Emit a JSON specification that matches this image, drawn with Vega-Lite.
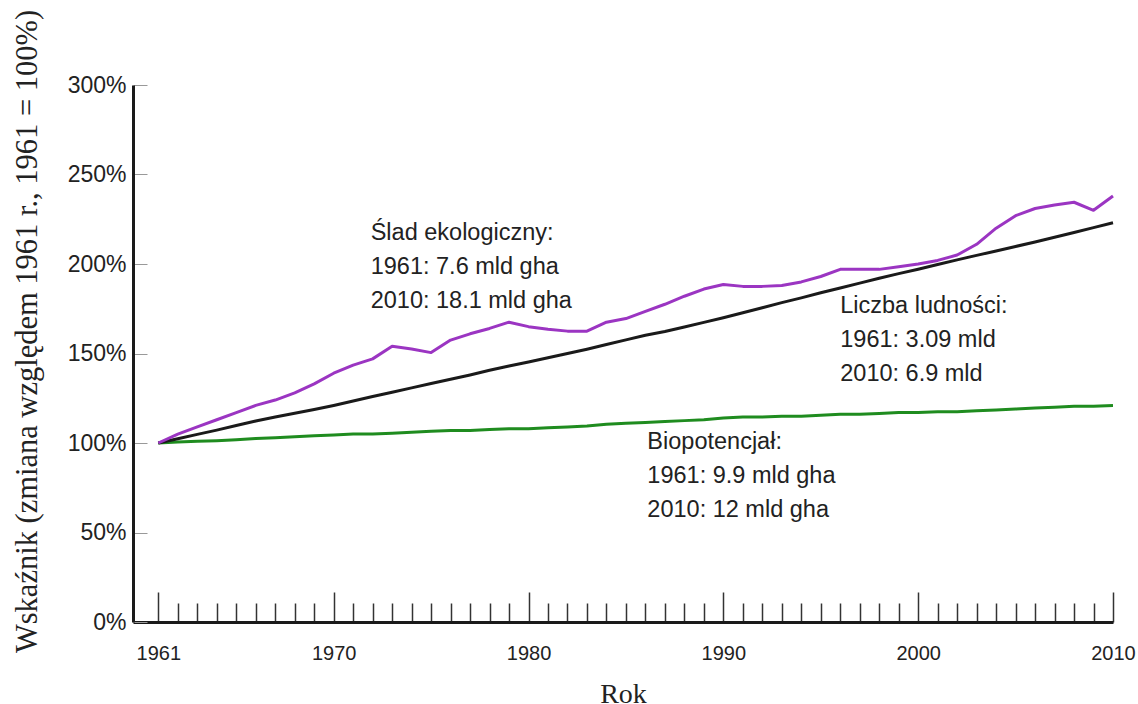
{
  "$schema": "https://vega.github.io/schema/vega-lite/v6.json",
  "width": 980,
  "height": 537,
  "autosize": "none",
  "padding": {"left": 133, "top": 85, "right": 25, "bottom": 82},
  "background": "white",
  "config": {
    "view": {"stroke": null},
    "axis": {"grid": false}
  },
  "datasets": {
    "series": [
      {"rok": 1961, "seria": "Biopotencjał", "wartosc": 100},
      {"rok": 1962, "seria": "Biopotencjał", "wartosc": 100.5},
      {"rok": 1963, "seria": "Biopotencjał", "wartosc": 101},
      {"rok": 1964, "seria": "Biopotencjał", "wartosc": 101.3},
      {"rok": 1965, "seria": "Biopotencjał", "wartosc": 101.8},
      {"rok": 1966, "seria": "Biopotencjał", "wartosc": 102.5},
      {"rok": 1967, "seria": "Biopotencjał", "wartosc": 103},
      {"rok": 1968, "seria": "Biopotencjał", "wartosc": 103.5},
      {"rok": 1969, "seria": "Biopotencjał", "wartosc": 104},
      {"rok": 1970, "seria": "Biopotencjał", "wartosc": 104.5},
      {"rok": 1971, "seria": "Biopotencjał", "wartosc": 105},
      {"rok": 1972, "seria": "Biopotencjał", "wartosc": 105},
      {"rok": 1973, "seria": "Biopotencjał", "wartosc": 105.5},
      {"rok": 1974, "seria": "Biopotencjał", "wartosc": 106},
      {"rok": 1975, "seria": "Biopotencjał", "wartosc": 106.5},
      {"rok": 1976, "seria": "Biopotencjał", "wartosc": 107},
      {"rok": 1977, "seria": "Biopotencjał", "wartosc": 107},
      {"rok": 1978, "seria": "Biopotencjał", "wartosc": 107.5},
      {"rok": 1979, "seria": "Biopotencjał", "wartosc": 108},
      {"rok": 1980, "seria": "Biopotencjał", "wartosc": 108},
      {"rok": 1981, "seria": "Biopotencjał", "wartosc": 108.5},
      {"rok": 1982, "seria": "Biopotencjał", "wartosc": 109},
      {"rok": 1983, "seria": "Biopotencjał", "wartosc": 109.5},
      {"rok": 1984, "seria": "Biopotencjał", "wartosc": 110.5},
      {"rok": 1985, "seria": "Biopotencjał", "wartosc": 111},
      {"rok": 1986, "seria": "Biopotencjał", "wartosc": 111.5},
      {"rok": 1987, "seria": "Biopotencjał", "wartosc": 112},
      {"rok": 1988, "seria": "Biopotencjał", "wartosc": 112.5},
      {"rok": 1989, "seria": "Biopotencjał", "wartosc": 113},
      {"rok": 1990, "seria": "Biopotencjał", "wartosc": 114},
      {"rok": 1991, "seria": "Biopotencjał", "wartosc": 114.5},
      {"rok": 1992, "seria": "Biopotencjał", "wartosc": 114.5},
      {"rok": 1993, "seria": "Biopotencjał", "wartosc": 115},
      {"rok": 1994, "seria": "Biopotencjał", "wartosc": 115},
      {"rok": 1995, "seria": "Biopotencjał", "wartosc": 115.5},
      {"rok": 1996, "seria": "Biopotencjał", "wartosc": 116},
      {"rok": 1997, "seria": "Biopotencjał", "wartosc": 116},
      {"rok": 1998, "seria": "Biopotencjał", "wartosc": 116.5},
      {"rok": 1999, "seria": "Biopotencjał", "wartosc": 117},
      {"rok": 2000, "seria": "Biopotencjał", "wartosc": 117},
      {"rok": 2001, "seria": "Biopotencjał", "wartosc": 117.5},
      {"rok": 2002, "seria": "Biopotencjał", "wartosc": 117.5},
      {"rok": 2003, "seria": "Biopotencjał", "wartosc": 118},
      {"rok": 2004, "seria": "Biopotencjał", "wartosc": 118.5},
      {"rok": 2005, "seria": "Biopotencjał", "wartosc": 119},
      {"rok": 2006, "seria": "Biopotencjał", "wartosc": 119.5},
      {"rok": 2007, "seria": "Biopotencjał", "wartosc": 120},
      {"rok": 2008, "seria": "Biopotencjał", "wartosc": 120.5},
      {"rok": 2009, "seria": "Biopotencjał", "wartosc": 120.5},
      {"rok": 2010, "seria": "Biopotencjał", "wartosc": 121},
      {"rok": 1961, "seria": "Liczba ludności", "wartosc": 100},
      {"rok": 1962, "seria": "Liczba ludności", "wartosc": 102.4},
      {"rok": 1963, "seria": "Liczba ludności", "wartosc": 104.8},
      {"rok": 1964, "seria": "Liczba ludności", "wartosc": 107.2},
      {"rok": 1965, "seria": "Liczba ludności", "wartosc": 109.8},
      {"rok": 1966, "seria": "Liczba ludności", "wartosc": 112.3},
      {"rok": 1967, "seria": "Liczba ludności", "wartosc": 114.5},
      {"rok": 1968, "seria": "Liczba ludności", "wartosc": 116.6},
      {"rok": 1969, "seria": "Liczba ludności", "wartosc": 118.7},
      {"rok": 1970, "seria": "Liczba ludności", "wartosc": 121},
      {"rok": 1971, "seria": "Liczba ludności", "wartosc": 123.5},
      {"rok": 1972, "seria": "Liczba ludności", "wartosc": 126},
      {"rok": 1973, "seria": "Liczba ludności", "wartosc": 128.4},
      {"rok": 1974, "seria": "Liczba ludności", "wartosc": 130.8},
      {"rok": 1975, "seria": "Liczba ludności", "wartosc": 133.2},
      {"rok": 1976, "seria": "Liczba ludności", "wartosc": 135.6},
      {"rok": 1977, "seria": "Liczba ludności", "wartosc": 138},
      {"rok": 1978, "seria": "Liczba ludności", "wartosc": 140.6},
      {"rok": 1979, "seria": "Liczba ludności", "wartosc": 143},
      {"rok": 1980, "seria": "Liczba ludności", "wartosc": 145.3},
      {"rok": 1981, "seria": "Liczba ludności", "wartosc": 147.6},
      {"rok": 1982, "seria": "Liczba ludności", "wartosc": 150},
      {"rok": 1983, "seria": "Liczba ludności", "wartosc": 152.4},
      {"rok": 1984, "seria": "Liczba ludności", "wartosc": 155},
      {"rok": 1985, "seria": "Liczba ludności", "wartosc": 157.6},
      {"rok": 1986, "seria": "Liczba ludności", "wartosc": 160.2},
      {"rok": 1987, "seria": "Liczba ludności", "wartosc": 162.3},
      {"rok": 1988, "seria": "Liczba ludności", "wartosc": 164.8},
      {"rok": 1989, "seria": "Liczba ludności", "wartosc": 167.4},
      {"rok": 1990, "seria": "Liczba ludności", "wartosc": 170},
      {"rok": 1991, "seria": "Liczba ludności", "wartosc": 172.8},
      {"rok": 1992, "seria": "Liczba ludności", "wartosc": 175.6},
      {"rok": 1993, "seria": "Liczba ludności", "wartosc": 178.4},
      {"rok": 1994, "seria": "Liczba ludności", "wartosc": 181.1},
      {"rok": 1995, "seria": "Liczba ludności", "wartosc": 183.9},
      {"rok": 1996, "seria": "Liczba ludności", "wartosc": 186.6},
      {"rok": 1997, "seria": "Liczba ludności", "wartosc": 189.3},
      {"rok": 1998, "seria": "Liczba ludności", "wartosc": 192},
      {"rok": 1999, "seria": "Liczba ludności", "wartosc": 194.6},
      {"rok": 2000, "seria": "Liczba ludności", "wartosc": 197.1},
      {"rok": 2001, "seria": "Liczba ludności", "wartosc": 199.7},
      {"rok": 2002, "seria": "Liczba ludności", "wartosc": 202.3},
      {"rok": 2003, "seria": "Liczba ludności", "wartosc": 204.8},
      {"rok": 2004, "seria": "Liczba ludności", "wartosc": 207.3},
      {"rok": 2005, "seria": "Liczba ludności", "wartosc": 209.8},
      {"rok": 2006, "seria": "Liczba ludności", "wartosc": 212.3},
      {"rok": 2007, "seria": "Liczba ludności", "wartosc": 214.9},
      {"rok": 2008, "seria": "Liczba ludności", "wartosc": 217.6},
      {"rok": 2009, "seria": "Liczba ludności", "wartosc": 220.3},
      {"rok": 2010, "seria": "Liczba ludności", "wartosc": 223},
      {"rok": 1961, "seria": "Ślad ekologiczny", "wartosc": 100},
      {"rok": 1962, "seria": "Ślad ekologiczny", "wartosc": 105},
      {"rok": 1963, "seria": "Ślad ekologiczny", "wartosc": 109},
      {"rok": 1964, "seria": "Ślad ekologiczny", "wartosc": 113},
      {"rok": 1965, "seria": "Ślad ekologiczny", "wartosc": 117},
      {"rok": 1966, "seria": "Ślad ekologiczny", "wartosc": 121},
      {"rok": 1967, "seria": "Ślad ekologiczny", "wartosc": 124},
      {"rok": 1968, "seria": "Ślad ekologiczny", "wartosc": 128},
      {"rok": 1969, "seria": "Ślad ekologiczny", "wartosc": 133},
      {"rok": 1970, "seria": "Ślad ekologiczny", "wartosc": 139},
      {"rok": 1971, "seria": "Ślad ekologiczny", "wartosc": 143.5},
      {"rok": 1972, "seria": "Ślad ekologiczny", "wartosc": 147},
      {"rok": 1973, "seria": "Ślad ekologiczny", "wartosc": 154},
      {"rok": 1974, "seria": "Ślad ekologiczny", "wartosc": 152.5},
      {"rok": 1975, "seria": "Ślad ekologiczny", "wartosc": 150.5},
      {"rok": 1976, "seria": "Ślad ekologiczny", "wartosc": 157.5},
      {"rok": 1977, "seria": "Ślad ekologiczny", "wartosc": 161},
      {"rok": 1978, "seria": "Ślad ekologiczny", "wartosc": 164},
      {"rok": 1979, "seria": "Ślad ekologiczny", "wartosc": 167.5},
      {"rok": 1980, "seria": "Ślad ekologiczny", "wartosc": 165},
      {"rok": 1981, "seria": "Ślad ekologiczny", "wartosc": 163.5},
      {"rok": 1982, "seria": "Ślad ekologiczny", "wartosc": 162.5},
      {"rok": 1983, "seria": "Ślad ekologiczny", "wartosc": 162.5},
      {"rok": 1984, "seria": "Ślad ekologiczny", "wartosc": 167.5},
      {"rok": 1985, "seria": "Ślad ekologiczny", "wartosc": 169.5},
      {"rok": 1986, "seria": "Ślad ekologiczny", "wartosc": 173.5},
      {"rok": 1987, "seria": "Ślad ekologiczny", "wartosc": 177.5},
      {"rok": 1988, "seria": "Ślad ekologiczny", "wartosc": 182},
      {"rok": 1989, "seria": "Ślad ekologiczny", "wartosc": 186},
      {"rok": 1990, "seria": "Ślad ekologiczny", "wartosc": 188.5},
      {"rok": 1991, "seria": "Ślad ekologiczny", "wartosc": 187.5},
      {"rok": 1992, "seria": "Ślad ekologiczny", "wartosc": 187.5},
      {"rok": 1993, "seria": "Ślad ekologiczny", "wartosc": 188},
      {"rok": 1994, "seria": "Ślad ekologiczny", "wartosc": 190},
      {"rok": 1995, "seria": "Ślad ekologiczny", "wartosc": 193},
      {"rok": 1996, "seria": "Ślad ekologiczny", "wartosc": 197},
      {"rok": 1997, "seria": "Ślad ekologiczny", "wartosc": 197},
      {"rok": 1998, "seria": "Ślad ekologiczny", "wartosc": 197},
      {"rok": 1999, "seria": "Ślad ekologiczny", "wartosc": 198.5},
      {"rok": 2000, "seria": "Ślad ekologiczny", "wartosc": 200},
      {"rok": 2001, "seria": "Ślad ekologiczny", "wartosc": 202},
      {"rok": 2002, "seria": "Ślad ekologiczny", "wartosc": 205},
      {"rok": 2003, "seria": "Ślad ekologiczny", "wartosc": 211},
      {"rok": 2004, "seria": "Ślad ekologiczny", "wartosc": 220},
      {"rok": 2005, "seria": "Ślad ekologiczny", "wartosc": 227},
      {"rok": 2006, "seria": "Ślad ekologiczny", "wartosc": 231},
      {"rok": 2007, "seria": "Ślad ekologiczny", "wartosc": 233},
      {"rok": 2008, "seria": "Ślad ekologiczny", "wartosc": 234.5},
      {"rok": 2009, "seria": "Ślad ekologiczny", "wartosc": 230},
      {"rok": 2010, "seria": "Ślad ekologiczny", "wartosc": 238}
    ],
    "notes": [
      {"rok": 1971.9, "wartosc": 213.4, "label": "Ślad ekologiczny:\n1961: 7.6 mld gha\n2010: 18.1 mld gha"},
      {"rok": 1996.0, "wartosc": 172.6, "label": "Liczba ludności:\n1961: 3.09 mld\n2010: 6.9 mld"},
      {"rok": 1986.1, "wartosc": 96.6, "label": "Biopotencjał:\n1961: 9.9 mld gha\n2010: 12 mld gha"}
    ]
  },
  "layer": [
    {
      "data": {"name": "series"},
      "mark": {"type": "line", "strokeWidth": 3, "strokeJoin": "round"},
      "encoding": {
        "x": {
          "field": "rok",
          "type": "quantitative",
          "scale": {"domain": [1959.7, 2010], "nice": false, "zero": false},
          "axis": {
            "values": [1961, 1962, 1963, 1964, 1965, 1966, 1967, 1968, 1969, 1970, 1971, 1972, 1973, 1974, 1975, 1976, 1977, 1978, 1979, 1980, 1981, 1982, 1983, 1984, 1985, 1986, 1987, 1988, 1989, 1990, 1991, 1992, 1993, 1994, 1995, 1996, 1997, 1998, 1999, 2000, 2001, 2002, 2003, 2004, 2005, 2006, 2007, 2008, 2009, 2010],
            "tickCount": 100,
            "labelExpr": "datum.value == 1961 || datum.value % 10 == 0 ? datum.value : ''",
            "labelFont": "Liberation Sans",
            "labelFontSize": 20,
            "labelColor": "#222222",
            "labelPadding": 51,
            "labelFlush": false,
            "labelOverlap": false,
            "tickSize": {"condition": {"test": "datum.value == 1961 || datum.value % 10 == 0", "value": -30}, "value": -19},
            "tickColor": "#333333",
            "tickWidth": 1.5,
            "domainColor": "#1a1a1a",
            "domainWidth": 3,
            "title": "Rok",
            "titleFont": "Liberation Serif",
            "titleFontSize": 28,
            "titleFontWeight": "normal",
            "titleColor": "#222222",
            "titleBaseline": "alphabetic",
            "titleY": 80
          }
        },
        "y": {
          "field": "wartosc",
          "type": "quantitative",
          "scale": {"domain": [0, 300], "nice": false},
          "axis": {
            "values": [0, 50, 100, 150, 200, 250, 300],
            "labelExpr": "datum.value + '%'",
            "labelFont": "Liberation Sans",
            "labelFontSize": 23,
            "labelColor": "#222222",
            "labelPadding": 21,
            "tickSize": -14,
            "tickColor": "#999999",
            "tickWidth": 1,
            "domainColor": "#1a1a1a",
            "domainWidth": 3,
            "title": "Wskaźnik (zmiana względem 1961 r., 1961 = 100%)",
            "titleFont": "Liberation Serif",
            "titleFontSize": 30.5,
            "titleFontWeight": "normal",
            "titleColor": "#222222",
            "titleAngle": -90,
            "titleAlign": "center",
            "titleBaseline": "middle",
            "titleX": -106,
            "titleY": 246
          }
        },
        "color": {
          "field": "seria",
          "type": "nominal",
          "sort": ["Biopotencjał", "Liczba ludności", "Ślad ekologiczny"],
          "scale": {"domain": ["Biopotencjał", "Liczba ludności", "Ślad ekologiczny"], "range": ["#1f8c1f", "#1a1a1a", "#9b35c2"]},
          "legend": null
        }
      }
    },
    {
      "data": {"name": "notes"},
      "mark": {
        "type": "text",
        "align": "left",
        "baseline": "alphabetic",
        "lineBreak": "\n",
        "lineHeight": 34,
        "font": "Liberation Sans",
        "fontSize": 23.5,
        "color": "#222222"
      },
      "encoding": {
        "x": {"field": "rok", "type": "quantitative"},
        "y": {"field": "wartosc", "type": "quantitative"},
        "text": {"field": "label", "type": "nominal"}
      }
    }
  ]
}
